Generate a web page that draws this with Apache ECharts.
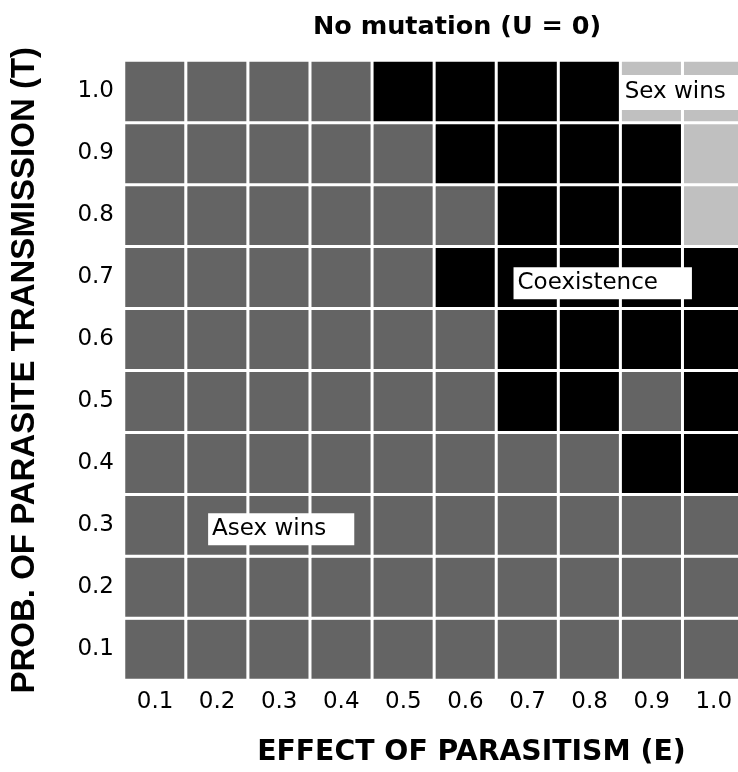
<!DOCTYPE html>
<html>
<head>
<meta charset="utf-8">
<script src="https://cdn.jsdelivr.net/npm/echarts@6/dist/echarts.min.js"></script>
<style>html,body{margin:0;padding:0;background:#fff;overflow:hidden;width:738px;height:772px;}#c{width:752px;height:772px;}</style>
</head>
<body>
<div id="c"></div>
<script>
// Categories
const effectLabels = ['0.1','0.2','0.3','0.4','0.5','0.6','0.7','0.8','0.9','1.0'];
const transLabels = ['0.1','0.2','0.3','0.4','0.5','0.6','0.7','0.8','0.9','1.0'];
// Outcome per row (T), columns E 0.1..1.0 ; 0 = Asex wins, 1 = Coexistence, 2 = Sex wins
const rowT01 = [0,0,0,0,0,0,0,0,0,0];
const rowT02 = [0,0,0,0,0,0,0,0,0,0];
const rowT03 = [0,0,0,0,0,0,0,0,0,0];
const rowT04 = [0,0,0,0,0,0,0,0,1,1];
const rowT05 = [0,0,0,0,0,0,1,1,0,1];
const rowT06 = [0,0,0,0,0,0,1,1,1,1];
const rowT07 = [0,0,0,0,0,1,1,1,1,1];
const rowT08 = [0,0,0,0,0,0,1,1,1,2];
const rowT09 = [0,0,0,0,0,1,1,1,1,2];
const rowT10 = [0,0,0,0,1,1,1,1,2,2];
const rows = [rowT01,rowT02,rowT03,rowT04,rowT05,rowT06,rowT07,rowT08,rowT09,rowT10];
const outcomeColors = ['#646464','#000000','#c0c0c0'];
// Region labels: [E, T, text]
const regionLabels = [
  ['0.9','1.0','Sex wins'],
  ['0.7','0.7','Coexistence'],
  ['0.2','0.3','Asex wins']
];

const heatData = [];
rows.forEach((r, yi) => r.forEach((v, xi) => heatData.push([xi, yi, v])));

const SANS = '"DejaVu Sans", sans-serif';
const ARIAL = '"Liberation Sans", Arial, sans-serif';
const chart = echarts.init(document.getElementById('c'), null, {renderer:'canvas'});
const labelStyles = {
  'Sex wins': {offset:[-32, 1], padding:[5, 14, 4, 5]},
  'Coexistence': {offset:[-14, 6], padding:[3, 34, 3, 4]},
  'Asex wins': {offset:[-9, 4], padding:[3, 28, 3, 4]}
};
chart.setOption({
  animation:false,
  backgroundColor:'#fff',
  title:{text:'No mutation (U = 0)', left:452, textAlign:'center', top:9,
    textStyle:{fontFamily:SANS, fontWeight:'bold', fontSize:25.5, color:'#000'}},
  grid:{left:121.5, top:60.5, width:623.3, height:627},
  xAxis:{type:'category', data:effectLabels,
    name:'EFFECT OF PARASITISM (E)', nameLocation:'middle', nameGap:59,
    nameTextStyle:{fontFamily:SANS, fontWeight:'bold', fontSize:28.3, color:'#000', padding:[0,0,0,74]},
    axisLine:{show:false}, axisTick:{show:false}, splitLine:{show:false},
    axisLabel:{fontFamily:SANS, fontSize:23, color:'#000', margin:11}},
  yAxis:{type:'category', data:transLabels,
    name:'PROB. OF PARASITE TRANSMISSION (T)', nameLocation:'middle', nameGap:83, nameRotate:90,
    nameTextStyle:{fontFamily:ARIAL, fontWeight:'bold', fontSize:33, color:'#000'},
    axisLine:{show:false}, axisTick:{show:false}, splitLine:{show:false},
    axisLabel:{fontFamily:SANS, fontSize:23, color:'#000', margin:10}},
  visualMap:{type:'piecewise', show:false, dimension:2, seriesIndex:0,
    pieces:[{value:0, color:outcomeColors[0]},{value:1, color:outcomeColors[1]},{value:2, color:outcomeColors[2]}]},
  series:[
    {type:'heatmap', data:heatData, itemStyle:{borderColor:'#fff', borderWidth:3}, emphasis:{disabled:true}},
    {type:'scatter', symbolSize:1, itemStyle:{color:'rgba(0,0,0,0)', opacity:1}, z:10, silent:true,
      data:regionLabels.map(r => ({value:[r[0], r[1]], name:r[2],
        label:{show:true, formatter:r[2], position:'inside', align:'left', verticalAlign:'middle',
          offset:labelStyles[r[2]].offset, padding:labelStyles[r[2]].padding, lineHeight:26,
          backgroundColor:'#ffffff', color:'#000000', opacity:1, fontFamily:SANS, fontSize:23}}))}
  ]
});
</script>
</body>
</html>
